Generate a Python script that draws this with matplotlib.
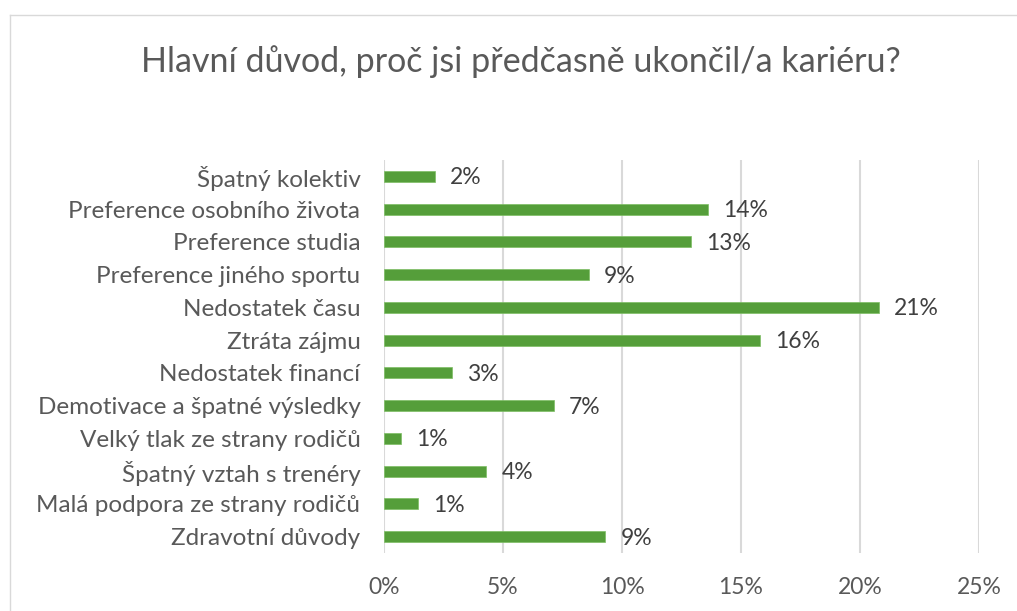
import matplotlib
matplotlib.use('Agg')
import matplotlib.pyplot as plt
from matplotlib.lines import Line2D
from matplotlib.ticker import FuncFormatter

plt.rcParams['font.family'] = ['Lato', 'DejaVu Sans']

# Data (top to bottom)
reasons = ['Špatný kolektiv', 'Preference osobního života', 'Preference studia',
           'Preference jiného sportu', 'Nedostatek času', 'Ztráta zájmu',
           'Nedostatek financí', 'Demotivace a špatné výsledky',
           'Velký tlak ze strany rodičů', 'Špatný vztah s trenéry',
           'Malá podpora ze strany rodičů', 'Zdravotní důvody']
shares = [2.14, 13.6, 12.9, 8.6, 20.8, 15.8, 2.86, 7.14, 0.71, 4.29, 1.43, 9.29]
x_ticks = [0, 5, 10, 15, 20, 25]

title = 'Hlavní důvod, proč jsi předčasně ukončil/a kariéru?'

green = '#559E3A'
grey_text = '#595959'
grid_col = '#D9D9D9'

fig = plt.figure(figsize=(10.17, 6.11), dpi=100)
ax = fig.add_axes([384 / 1017, 58 / 611, 595 / 1017, 393 / 611])

pos = list(range(len(reasons)))
ax.barh(pos, shares, height=0.34, color=green, edgecolor='#7DBE63', linewidth=0.5, zorder=3)
ax.set_ylim(len(reasons) - 0.5, -0.5)
ax.set_xlim(0, 25)
ax.set_yticks(pos)
ax.set_yticklabels(reasons)
ax.set_xticks(x_ticks)
ax.xaxis.set_major_formatter(FuncFormatter(lambda v, p: '%d%%' % v))

for i, v in enumerate(shares):
    ax.annotate('%d%%' % round(v), xy=(v, i), xytext=(11, -1), textcoords='offset points',
                ha='left', va='center', fontsize=16.5, color='#404040')

ax.grid(axis='x', color=grid_col, linewidth=1.5, zorder=0)
for s in ax.spines.values():
    s.set_visible(False)
ax.tick_params(axis='both', length=0, colors=grey_text)
ax.tick_params(axis='y', pad=17, labelsize=17.5)
ax.tick_params(axis='x', pad=17, labelsize=16.5)

fig.text(521 / 1017, 1 - 62 / 611, title, ha='center', va='center', fontsize=24.5, color=grey_text)

# chart area border (only left and top visible in the crop)
fig.add_artist(Line2D([10 / 1017, 10 / 1017], [0, 1 - 15 / 611], color=grid_col, lw=1,
                      transform=fig.transFigure))
fig.add_artist(Line2D([10 / 1017, 1], [1 - 15 / 611, 1 - 15 / 611], color=grid_col, lw=1,
                      transform=fig.transFigure))

fig.savefig('out.png', dpi=100)
